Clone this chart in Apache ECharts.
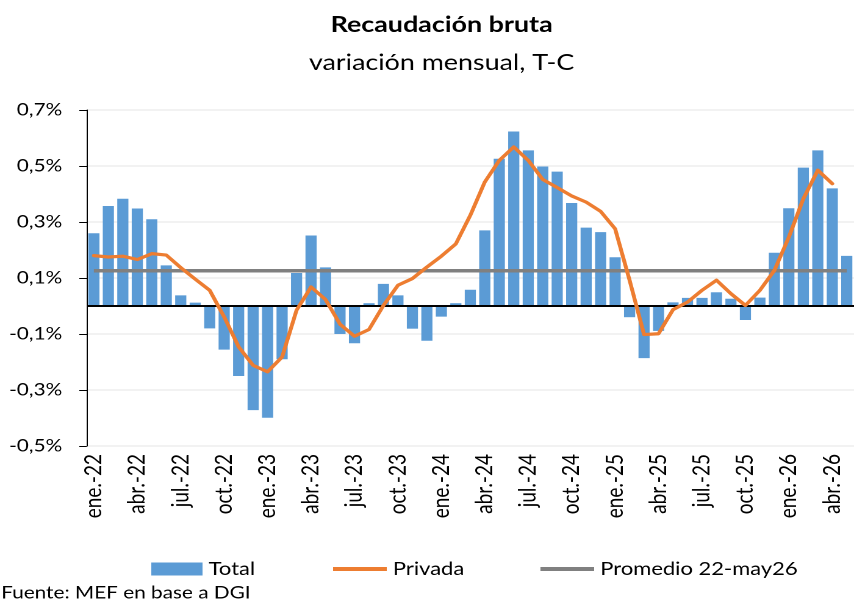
<!DOCTYPE html>
<html>
<head>
<meta charset="utf-8">
<script src="https://cdn.jsdelivr.net/npm/echarts@6/dist/echarts.min.js"></script>
<style>
    html, body { margin: 0; padding: 0; background: #fff; overflow: hidden; }
    /* the original is stretched sideways, so draw narrow and widen it */
    #chart { width: 700px; height: 603px; transform: scaleX(1.22); transform-origin: 0 0; }
</style>
</head>
<body>
<div id="chart"></div>
<script>
const categories = [
    'ene.-22', 'feb.-22', 'mar.-22', 'abr.-22', 'may.-22', 'jun.-22', 'jul.-22', 'ago.-22', 'sep.-22', 'oct.-22', 'nov.-22', 'dic.-22',
    'ene.-23', 'feb.-23', 'mar.-23', 'abr.-23', 'may.-23', 'jun.-23', 'jul.-23', 'ago.-23', 'sep.-23', 'oct.-23', 'nov.-23', 'dic.-23',
    'ene.-24', 'feb.-24', 'mar.-24', 'abr.-24', 'may.-24', 'jun.-24', 'jul.-24', 'ago.-24', 'sep.-24', 'oct.-24', 'nov.-24', 'dic.-24',
    'ene.-25', 'feb.-25', 'mar.-25', 'abr.-25', 'may.-25', 'jun.-25', 'jul.-25', 'ago.-25', 'sep.-25', 'oct.-25', 'nov.-25', 'dic.-25',
    'ene.-26', 'feb.-26', 'mar.-26', 'abr.-26', 'may.-26'
];

// variación mensual, en %
const total = [
    0.26, 0.357, 0.383, 0.348, 0.31, 0.145, 0.038, 0.012, -0.08, -0.156, -0.25, -0.372,
    -0.399, -0.19, 0.118, 0.252, 0.138, -0.1, -0.133, 0.01, 0.079, 0.038, -0.081, -0.124,
    -0.038, 0.01, 0.058, 0.27, 0.526, 0.623, 0.556, 0.498, 0.48, 0.368, 0.28, 0.264,
    0.174, -0.04, -0.186, -0.089, 0.013, 0.029, 0.029, 0.049, 0.026, -0.05, 0.03, 0.19,
    0.349, 0.494, 0.556, 0.42, 0.179
];

const privada = [
    0.18, 0.175, 0.178, 0.166, 0.187, 0.182, 0.137, 0.096, 0.056, -0.039, -0.146, -0.212,
    -0.235, -0.182, -0.015, 0.068, 0.023, -0.065, -0.108, -0.084, 0.002, 0.074, 0.098, 0.139,
    0.178, 0.222, 0.324, 0.443, 0.52, 0.568, 0.52, 0.452, 0.423, 0.393, 0.371, 0.338,
    0.276, 0.092, -0.102, -0.099, -0.013, 0.014, 0.056, 0.092, 0.044, 0.002, 0.056, 0.127,
    0.246, 0.383, 0.485, 0.437, null
];

const promedioValor = 0.126;
const promedio = categories.map(() => promedioValor);

const yTicks = { min: -0.5, max: 0.7, step: 0.2 };

const font = 'Lato, "Noto Sans", sans-serif';

const chart = echarts.init(document.getElementById('chart'), null, { devicePixelRatio: 2 });
chart.setOption({
    animation: false,
    textStyle: { fontFamily: font, color: '#000' },
    grid: {
        left: 71,
        right: -5,
        top: 110,
        bottom: 157
    },
    graphic: [
        {
            type: 'text', x: 362, y: 25,
            style: { text: 'Recaudación bruta', font: 'bold 22px ' + font, fill: '#000', align: 'center', verticalAlign: 'middle' }
        },
        {
            type: 'text', x: 362, y: 63,
            style: { text: 'variación mensual, T-C', font: '22px ' + font, fill: '#000', align: 'center', verticalAlign: 'middle' }
        },
        {
            type: 'text', x: 1, y: 593,
            style: { text: 'Fuente: MEF en base a DGI', font: '17px ' + font, fill: '#000', align: 'left', verticalAlign: 'middle' }
        }
    ],
    legend: [
        {
            data: ['Total'],
            left: 124, top: 558, padding: 0,
            icon: 'rect', itemWidth: 42, itemHeight: 13, itemGap: 5,
            textStyle: { fontSize: 18, lineHeight: 22, color: '#000' }
        },
        {
            data: ['Privada'],
            left: 273, top: 558, padding: 0,
            icon: 'rect', itemWidth: 44, itemHeight: 4,
            textStyle: { fontSize: 18, lineHeight: 22, color: '#000' }
        },
        {
            data: ['Promedio 22-may26'],
            left: 443, top: 558, padding: 0,
            icon: 'rect', itemWidth: 44, itemHeight: 4,
            textStyle: { fontSize: 18, lineHeight: 22, color: '#000' }
        }
    ],
    xAxis: {
        type: 'category',
        data: categories,
        axisLine: { show: false },
        axisTick: { show: false },
        axisLabel: {
            rotate: 90,
            interval: 2,
            margin: 8,
            fontSize: 19,
            color: '#000'
        }
    },
    yAxis: {
        type: 'value',
        min: yTicks.min,
        max: yTicks.max,
        interval: yTicks.step,
        axisLine: { show: true, lineStyle: { color: '#000', width: 1 } },
        axisTick: { show: true, length: 6, lineStyle: { color: '#000', width: 1 } },
        splitLine: { lineStyle: { color: '#EEEEEE', width: 1.5 } },
        axisLabel: {
            margin: 20,
            fontSize: 17,
            color: '#000',
            formatter: v => v.toFixed(1).replace('.', ',') + '%'
        }
    },
    series: [
        {
            name: 'Total',
            type: 'bar',
            data: total,
            barCategoryGap: '23%',
            itemStyle: { color: '#5B9BD5' },
            markLine: {
                silent: true,
                symbol: ['none', 'none'],
                label: { show: false },
                lineStyle: { color: '#000', width: 2, type: 'solid' },
                data: [{ yAxis: 0 }]
            }
        },
        {
            name: 'Privada',
            type: 'line',
            data: privada,
            z: 7,
            showSymbol: false,
            symbol: 'none',
            itemStyle: { color: '#ED7D31' },
            lineStyle: { color: '#ED7D31', width: 3.2, cap: 'round', join: 'round' }
        },
        {
            name: 'Promedio 22-may26',
            type: 'line',
            data: promedio,
            z: 6,
            showSymbol: false,
            symbol: 'none',
            itemStyle: { color: '#808080' },
            lineStyle: { color: '#808080', width: 3.5 }
        }
    ]
});
</script>
</body>
</html>
